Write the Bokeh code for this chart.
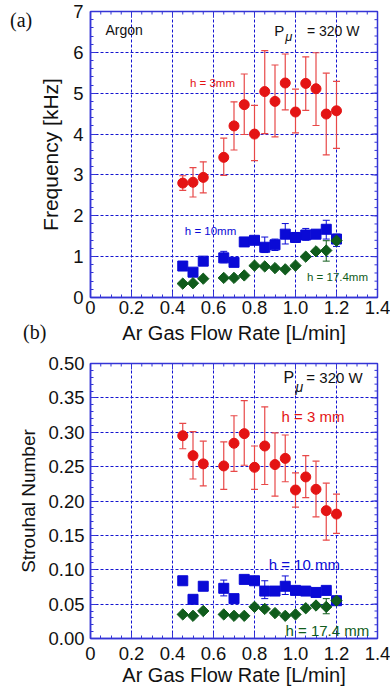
from bokeh.plotting import figure
from bokeh.models import FixedTicker, Label, Range1d, Div
from bokeh.layouts import column
from bokeh.embed import file_html
from bokeh.resources import INLINE
import numpy as np

# ---------------- data ----------------
flow = [0.45, 0.50, 0.55, 0.65, 0.70, 0.75, 0.80, 0.85, 0.90, 0.95, 1.00, 1.05, 1.10, 1.15, 1.20]

freq_3mm = [2.80, 2.82, 2.94, 3.43, 4.20, 4.72, 4.00, 5.04, 4.80, 5.25, 4.54, 5.24, 5.11, 4.49, 4.57]
freq_3mm_lo = [2.62, 2.46, 2.56, 2.99, 3.61, 3.99, 3.35, 4.01, 3.93, 4.59, 4.03, 4.58, 4.21, 3.49, 3.65]
freq_3mm_hi = [2.98, 3.18, 3.32, 3.90, 4.79, 5.47, 4.70, 6.04, 5.69, 5.96, 5.10, 5.89, 5.99, 5.49, 5.29]

freq_10mm = [0.77, 0.62, 0.89, 0.97, 0.86, 1.36, 1.40, 1.23, 1.29, 1.55, 1.47, 1.53, 1.55, 1.67, 1.43]
freq_10mm_lo = [0.77, 0.62, 0.89, 0.85, 0.86, 1.36, 1.40, 1.10, 1.15, 1.31, 1.35, 1.40, 1.45, 1.43, 1.25]
freq_10mm_hi = [0.77, 0.62, 0.89, 1.13, 0.86, 1.36, 1.40, 1.48, 1.43, 1.81, 1.59, 1.69, 1.65, 1.89, 1.55]

freq_174mm = [0.34, 0.35, 0.46, 0.48, 0.48, 0.54, 0.78, 0.76, 0.72, 0.69, 0.78, 1.00, 1.13, 1.15, 1.39]
freq_174mm_lo = [0.34, 0.35, 0.46, 0.48, 0.48, 0.54, 0.78, 0.76, 0.72, 0.69, 0.78, 1.00, 1.13, 0.89, 1.39]
freq_174mm_hi = [0.34, 0.35, 0.46, 0.48, 0.48, 0.54, 0.78, 0.76, 0.72, 0.69, 0.78, 1.00, 1.13, 1.39, 1.39]

st_3mm = [0.295, 0.266, 0.254, 0.251, 0.284, 0.298, 0.249, 0.280, 0.253, 0.262, 0.216, 0.235, 0.217, 0.186, 0.181]
st_3mm_lo = [0.276, 0.232, 0.222, 0.217, 0.243, 0.252, 0.217, 0.224, 0.207, 0.228, 0.191, 0.205, 0.177, 0.143, 0.153]
st_3mm_hi = [0.313, 0.301, 0.287, 0.286, 0.324, 0.346, 0.280, 0.337, 0.299, 0.296, 0.241, 0.266, 0.258, 0.226, 0.210]

st_10mm = [0.084, 0.057, 0.076, 0.073, 0.058, 0.086, 0.084, 0.069, 0.069, 0.076, 0.070, 0.069, 0.067, 0.070, 0.055]
st_10mm_lo = [0.084, 0.057, 0.076, 0.062, 0.058, 0.086, 0.084, 0.058, 0.069, 0.064, 0.070, 0.069, 0.067, 0.070, 0.055]
st_10mm_hi = [0.084, 0.057, 0.076, 0.085, 0.058, 0.086, 0.084, 0.084, 0.069, 0.091, 0.070, 0.069, 0.067, 0.070, 0.055]

st_174mm = [0.035, 0.033, 0.040, 0.035, 0.033, 0.033, 0.046, 0.043, 0.037, 0.033, 0.035, 0.044, 0.048, 0.046, 0.055]
st_174mm_lo = [0.035, 0.033, 0.040, 0.035, 0.033, 0.033, 0.046, 0.043, 0.037, 0.033, 0.035, 0.044, 0.048, 0.036, 0.055]
st_174mm_hi = [0.035, 0.033, 0.040, 0.035, 0.033, 0.033, 0.046, 0.043, 0.037, 0.033, 0.035, 0.044, 0.048, 0.058, 0.055]

x_ticks = [0.0, 0.2, 0.4, 0.6, 0.8, 1.0, 1.2, 1.4]
x_tick_labels = ["0", "0.2", "0.4", "0.6", "0.8", "1.0", "1.2", "1.4"]
freq_ticks = [0, 1, 2, 3, 4, 5, 6, 7]
freq_tick_labels = ["0", "1", "2", "3", "4", "5", "6", "7"]
st_ticks = [0.0, 0.05, 0.10, 0.15, 0.20, 0.25, 0.30, 0.35, 0.40]
st_tick_labels = ["0.00", "0.05", "0.10", "0.15", "0.20", "0.25", "0.30", "0.35", "0.50"]

# ---------------- style ----------------
FRAME = "#3434d6"
GRID = "#1414d0"
RED = "#e41414"
RED_ERR = "#e84848"
BLUE = "#0a0ad6"
GREEN = "#105c1c"
SANS = "Liberation Sans"
SERIF = "Liberation Serif"

x_minor = [round(i * 0.05, 2) for i in range(29)]
f_minor = [round(i * 0.2, 1) for i in range(36)]
s_minor = [round(i * 0.01, 2) for i in range(41)]


def style_axis(ax, label_size):
    ax.axis_line_color = FRAME
    ax.axis_line_width = 1.5
    ax.major_tick_line_color = FRAME
    ax.minor_tick_line_color = FRAME
    ax.major_tick_in = 6
    ax.major_tick_out = 0
    ax.minor_tick_in = 3
    ax.minor_tick_out = 0
    ax.major_label_text_font = SANS
    ax.major_label_text_color = "#111111"
    ax.major_label_text_font_size = "18.5px"
    ax.axis_label_text_font = SANS
    ax.axis_label_text_font_style = "normal"
    ax.axis_label_text_color = "#111111"
    ax.axis_label_text_font_size = label_size


def make_panel(height, yr, yticks, yminor, ylabels, ylabel, ylabel_size, borders,
               xlab_standoff, xaxis_standoff, ylab_standoff, yaxis_standoff):
    p = figure(width=390, height=height, x_range=Range1d(0, 1.4), y_range=Range1d(*yr),
               output_backend="svg", toolbar_location=None,
               min_border_left=borders[0], min_border_right=borders[1],
               min_border_top=borders[2], min_border_bottom=borders[3])
    p.background_fill_color = "white"
    p.border_fill_color = "white"
    p.outline_line_color = FRAME
    p.outline_line_width = 1.5

    xt = FixedTicker(ticks=x_ticks, minor_ticks=x_minor)
    yt = FixedTicker(ticks=yticks, minor_ticks=yminor)

    p.xaxis.ticker = xt
    p.yaxis.ticker = yt
    p.xaxis.major_label_overrides = dict(zip(x_ticks, x_tick_labels))
    p.yaxis.major_label_overrides = dict(zip(yticks, ylabels))
    style_axis(p.xaxis[0], "20px")
    style_axis(p.yaxis[0], ylabel_size)
    p.xaxis.axis_label = "Ar Gas Flow Rate [L/min]"
    p.yaxis.axis_label = ylabel
    p.xaxis.major_label_standoff = xlab_standoff
    p.xaxis.axis_label_standoff = xaxis_standoff
    p.yaxis.major_label_standoff = ylab_standoff
    p.yaxis.axis_label_standoff = yaxis_standoff

    p.xgrid.ticker = xt
    p.ygrid.ticker = yt
    for g in (p.xgrid[0], p.ygrid[0]):
        g.grid_line_color = GRID
        g.grid_line_dash = "3 2"
        g.grid_line_width = 1

    # inward tick marks on the top and right frame edges (half clipped by the frame)
    ytop, xright = yr[1], 1.4
    p.scatter(x=x_ticks, y=[ytop] * len(x_ticks), marker="dash", angle=np.pi / 2,
              size=12, line_color=FRAME, line_width=1)
    p.scatter(x=x_minor, y=[ytop] * len(x_minor), marker="dash", angle=np.pi / 2,
              size=6, line_color=FRAME, line_width=1)
    p.scatter(x=[xright] * len(yticks), y=yticks, marker="dash",
              size=12, line_color=FRAME, line_width=1)
    p.scatter(x=[xright] * len(yminor), y=yminor, marker="dash",
              size=6, line_color=FRAME, line_width=1)
    return p


def errbars(p, x, lo, hi, color, width=1.2):
    p.segment(x0=x, y0=lo, x1=x, y1=hi, line_color=color, line_width=width)
    p.scatter(x=x, y=lo, marker="dash", size=7, line_color=color, line_width=width)
    p.scatter(x=x, y=hi, marker="dash", size=7, line_color=color, line_width=width)


def txt(p, x, y, text, size, color="#111111", font=SANS, style="normal"):
    p.add_layout(Label(x=x, y=y, text=text, text_font=font,
                       text_font_size=size, text_color=color, text_baseline="middle",
                       text_align="left", text_font_style=style))


def panel_tag(text, left, top):
    return Div(text=text, width=30, height=24,
               styles={"position": "absolute", "left": f"{left}px", "top": f"{top}px",
                       "z-index": "10", "font-family": SERIF, "font-size": "20px",
                       "line-height": "20px", "color": "#111111"})


# ---------------- panel (a) ----------------
pa = make_panel(352, (0, 7), freq_ticks, f_minor, freq_tick_labels, "Frequency [kHz]", "21px",
                (88, 13, 11, 55), 3, 5, 7, 8)

errbars(pa, flow, freq_3mm_lo, freq_3mm_hi, RED_ERR)
errbars(pa, flow, freq_10mm_lo, freq_10mm_hi, BLUE, 1.0)
errbars(pa, flow, freq_174mm_lo, freq_174mm_hi, GREEN, 1.0)
pa.scatter(flow, freq_3mm, marker="circle", size=10, fill_color=RED, line_color=RED)
pa.scatter(flow, freq_10mm, marker="square", size=10, fill_color=BLUE, line_color=BLUE)
pa.scatter(flow, freq_174mm, marker="square", size=8, angle=np.pi / 4,
           fill_color=GREEN, line_color=GREEN)

txt(pa, 0.073, 6.55, "Argon", "14px")
txt(pa, 0.896, 6.53, "P", "15px")
txt(pa, 0.950, 6.40, "\u03bc", "13px", style="italic")
txt(pa, 1.056, 6.53, "= 320 W", "14px")
txt(pa, 0.485, 5.24, "h = 3mm", "11.5px", RED)
txt(pa, 0.460, 1.63, "h = 10mm", "11.5px", BLUE)
txt(pa, 1.056, 0.49, "h = 17.4mm", "11.5px", GREEN)

# ---------------- panel (b) ----------------
pb = make_panel(338, (0, 0.40), st_ticks, s_minor, st_tick_labels, "Strouhal Number", "19px",
                (90, 10, 11, 52), 8, 1, 6, 6)

errbars(pb, flow, st_3mm_lo, st_3mm_hi, RED_ERR)
errbars(pb, flow, st_10mm_lo, st_10mm_hi, BLUE, 1.0)
errbars(pb, flow, st_174mm_lo, st_174mm_hi, GREEN, 1.0)
pb.scatter(flow, st_3mm, marker="circle", size=10, fill_color=RED, line_color=RED)
pb.scatter(flow, st_10mm, marker="square", size=10, fill_color=BLUE, line_color=BLUE)
pb.scatter(flow, st_174mm, marker="square", size=8, angle=np.pi / 4,
           fill_color=GREEN, line_color=GREEN)

txt(pb, 0.942, 0.380, "P", "16px")
txt(pb, 1.000, 0.366, "\u03bc", "14px", style="italic")
txt(pb, 1.053, 0.380, "= 320 W", "15px")
txt(pb, 0.932, 0.323, "h = 3 mm", "15px", RED)
txt(pb, 0.869, 0.107, "h = 10 mm", "15px", BLUE)
txt(pb, 0.951, 0.012, "h = 17.4 mm", "15px", GREEN)

tag_a = panel_tag("(a)", 5, 5)
tag_b = panel_tag("(b)", 18, 317)

layout = column(pa, pb, tag_a, tag_b, spacing=0)
open("out.html", "w").write(file_html(layout, INLINE))
